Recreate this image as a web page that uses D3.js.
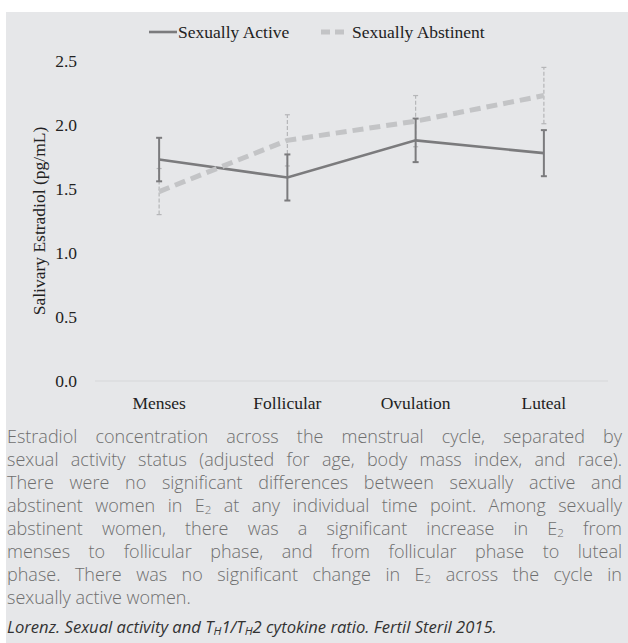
<!DOCTYPE html>
<html>
<head>
<meta charset="utf-8">
<script src="https://cdn.jsdelivr.net/npm/d3@7"></script>
<style>
  html, body { margin: 0; padding: 0; background: #fff; }
  #wrap { position: relative; width: 628px; height: 643px; overflow: hidden; }
  #chart { position: absolute; left: 0; top: 0; }
  #caption {
    position: absolute; left: 7px; top: 425px; width: 615px;
    font-family: "Open Sans", "Noto Sans", sans-serif; font-weight: 300;
    font-size: 18px; line-height: 23px; color: #6f6f6f;
  }
  #caption .ln { height: 23px; text-align: justify; text-align-last: justify; white-space: nowrap; }
  #caption .ln.last { text-align-last: left; }
  #caption sub { font-size: 0.65em; vertical-align: -0.2em; line-height: 0; }
  #cite {
    position: absolute; left: 7px; top: 617px;
    font-family: "Open Sans", "Noto Sans", sans-serif; font-style: italic;
    font-size: 16.6px; line-height: 20px; color: #333;
  }
  #cite sub { font-size: 0.7em; vertical-align: -0.2em; line-height: 0; }
</style>
</head>
<body>
<div id="wrap">
  <svg id="chart" width="628" height="643"></svg>
  <div id="caption"></div>
  <div id="cite">Lorenz. Sexual activity and T<sub>H</sub>1/T<sub>H</sub>2 cytokine ratio. Fertil Steril 2015.</div>
</div>
<script>
const phases = ['Menses', 'Follicular', 'Ovulation', 'Luteal'];
const activeMean = [1.73, 1.59, 1.88, 1.78];
const activeErr = [0.17, 0.18, 0.17, 0.18];
const abstinentMean = [1.48, 1.88, 2.03, 2.23];
const abstinentErr = [0.18, 0.20, 0.20, 0.22];
const yTicks = [0, 0.5, 1.0, 1.5, 2.0, 2.5];
const seriesNames = ['Sexually Active', 'Sexually Abstinent'];

const captionLines = [
  'Estradiol concentration across the menstrual cycle, separated by',
  'sexual activity status (adjusted for age, body mass index, and race).',
  'There were no significant differences between sexually active and',
  'abstinent women in E<sub>2</sub> at any individual time point. Among sexually',
  'abstinent women, there was a significant increase in E<sub>2</sub> from',
  'menses to follicular phase, and from follicular phase to luteal',
  'phase. There was no significant change in E<sub>2</sub> across the cycle in',
  'sexually active women.'
];

const svg = d3.select('#chart');
const serif = '"Liberation Serif", "Times New Roman", serif';

// grey panel
svg.append('rect')
  .attr('x', 6).attr('y', 12)
  .attr('width', 622).attr('height', 631)
  .attr('fill', '#e6e7e9');

const x = d3.scalePoint().domain(phases).range([95, 608]).padding(0.5);
const y = d3.scaleLinear().domain([0, 2.5]).range([381, 61]);

// baseline
svg.append('line')
  .attr('x1', 95).attr('x2', 608)
  .attr('y1', y(0)).attr('y2', y(0))
  .attr('stroke', '#d6d7d9').attr('stroke-width', 1);

// y tick labels
svg.append('g').selectAll('text')
  .data(yTicks)
  .enter().append('text')
  .attr('x', 77)
  .attr('y', d => y(d))
  .attr('dy', '0.35em')
  .attr('text-anchor', 'end')
  .style('font-family', serif)
  .style('font-size', '17.5px')
  .attr('fill', '#222')
  .text(d => d.toFixed(1));

// x labels
svg.append('g').selectAll('text')
  .data(phases)
  .enter().append('text')
  .attr('x', d => x(d))
  .attr('y', 409)
  .attr('text-anchor', 'middle')
  .style('font-family', serif)
  .style('font-size', '17.5px')
  .attr('fill', '#222')
  .text(d => d);

// y axis title
svg.append('text')
  .attr('transform', `translate(45,${(y(0) + y(2.5)) / 2}) rotate(-90)`)
  .attr('text-anchor', 'middle')
  .style('font-family', serif)
  .style('font-size', '17.5px')
  .attr('fill', '#222')
  .text('Salivary Estradiol (pg/mL)');

const activeData = phases.map((p, i) => ({ p, m: activeMean[i], e: activeErr[i] }));
const abstData = phases.map((p, i) => ({ p, m: abstinentMean[i], e: abstinentErr[i] }));

const line = d3.line().x(d => x(d.p)).y(d => y(d.m));

// abstinent error bars (thin dashed)
const abErr = svg.append('g');
abErr.selectAll('line.v')
  .data(abstData)
  .enter().append('line')
  .attr('x1', d => x(d.p)).attr('x2', d => x(d.p))
  .attr('y1', d => y(d.m - d.e)).attr('y2', d => y(d.m + d.e))
  .attr('stroke', '#b5b6b8').attr('stroke-width', 1.2)
  .attr('stroke-dasharray', '4,2');
abErr.selectAll('line.cap')
  .data(abstData.flatMap(d => [{ p: d.p, v: d.m - d.e }, { p: d.p, v: d.m + d.e }]))
  .enter().append('line')
  .attr('x1', d => x(d.p) - 2.5).attr('x2', d => x(d.p) + 2.5)
  .attr('y1', d => y(d.v)).attr('y2', d => y(d.v))
  .attr('stroke', '#b5b6b8').attr('stroke-width', 1.2);

// active error bars
const acErr = svg.append('g');
acErr.selectAll('line.v')
  .data(activeData)
  .enter().append('line')
  .attr('x1', d => x(d.p)).attr('x2', d => x(d.p))
  .attr('y1', d => y(d.m - d.e)).attr('y2', d => y(d.m + d.e))
  .attr('stroke', '#7b7b7d').attr('stroke-width', 2);
acErr.selectAll('line.cap')
  .data(activeData.flatMap(d => [{ p: d.p, v: d.m - d.e }, { p: d.p, v: d.m + d.e }]))
  .enter().append('line')
  .attr('x1', d => x(d.p) - 3).attr('x2', d => x(d.p) + 3)
  .attr('y1', d => y(d.v)).attr('y2', d => y(d.v))
  .attr('stroke', '#7b7b7d').attr('stroke-width', 2);

// series lines
svg.append('path')
  .datum(activeData)
  .attr('d', line)
  .attr('fill', 'none')
  .attr('stroke', '#7b7b7d')
  .attr('stroke-width', 2.6);

svg.append('path')
  .datum(abstData)
  .attr('d', line)
  .attr('fill', 'none')
  .attr('stroke', '#c3c4c6')
  .attr('stroke-width', 5)
  .attr('stroke-dasharray', '11,6');

// legend
const lg = svg.append('g');
lg.append('line')
  .attr('x1', 149).attr('x2', 177).attr('y1', 32).attr('y2', 32)
  .attr('stroke', '#7b7b7d').attr('stroke-width', 2.6);
lg.append('text')
  .attr('x', 178).attr('y', 38)
  .style('font-family', serif).style('font-size', '17.5px')
  .attr('fill', '#222')
  .text(seriesNames[0]);
lg.append('line')
  .attr('x1', 321).attr('x2', 346).attr('y1', 32).attr('y2', 32)
  .attr('stroke', '#c3c4c6').attr('stroke-width', 5)
  .attr('stroke-dasharray', '9,5');
lg.append('text')
  .attr('x', 352).attr('y', 38)
  .style('font-family', serif).style('font-size', '17.5px')
  .attr('fill', '#222')
  .text(seriesNames[1]);

// caption
d3.select('#caption').selectAll('div')
  .data(captionLines)
  .enter().append('div')
  .attr('class', (d, i) => 'ln' + (i === captionLines.length - 1 ? ' last' : ''))
  .html(d => d);
</script>
</body>
</html>
